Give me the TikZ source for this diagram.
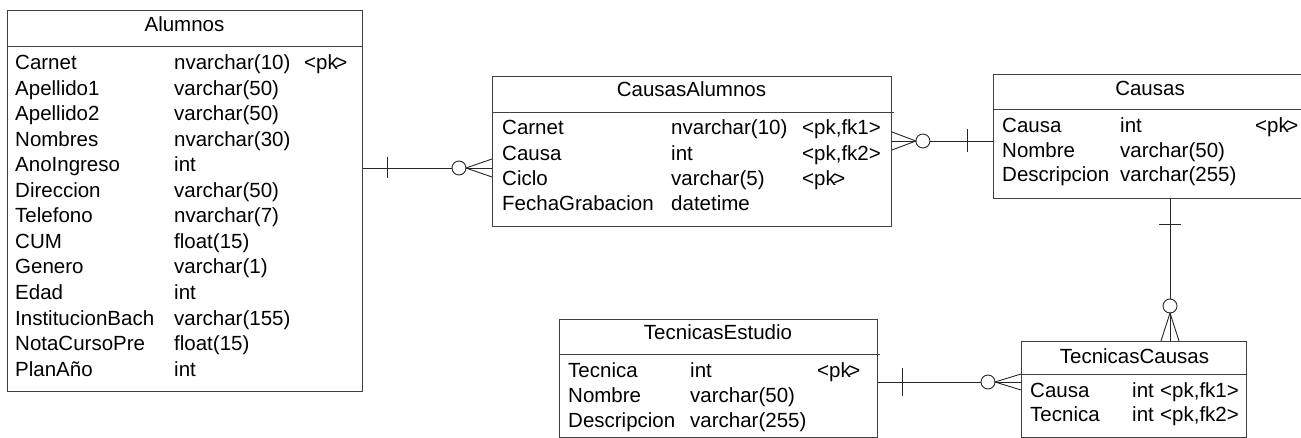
\documentclass[tikz,border=0pt]{standalone}
\usepackage{fontspec}
\setmainfont{Liberation Sans}
\usetikzlibrary{calc}
\newcommand\pkmark{<pk\kern-2.5pt>}
\tikzset{
  tbl/.style={draw=black!75, line width=0.9pt, rectangle, inner sep=0pt, anchor=north west},
  sepline/.style={draw=black!75, line width=0.9pt},
  txt/.style={inner sep=0pt, anchor=base west, font=\fontsize{20.5}{24}\selectfont, text=black},
  ttl/.style={inner sep=0pt, anchor=base, font=\fontsize{20.5}{24}\selectfont, text=black},
  conn/.style={draw=black!85, line width=0.9pt},
}
\begin{document}
\begin{tikzpicture}[x=1pt,y=-1pt]
\useasboundingbox (0,0) rectangle (1301,438);
\clip (0,0) rectangle (1301,438);

% ---------------- Alumnos ----------------
\node[tbl, minimum width=355pt, minimum height=381pt] (alumnos) at (7,10) {};
\draw[sepline] (7,46) -- (362,46);
\node[ttl] (alumnos-title) at (184.5,32) {Alumnos};
\foreach \a/\b [count=\i from 0] in {Carnet/nvarchar(10), Apellido1/varchar(50), Apellido2/varchar(50), Nombres/nvarchar(30), AnoIngreso/int, Direccion/varchar(50), Telefono/nvarchar(7), CUM/float(15), Genero/varchar(1), Edad/int, InstitucionBach/varchar(155), NotaCursoPre/float(15), PlanAño/int} {
  \node[txt] (alu-n\i) at (15,70+25.5*\i) {\a};
  \node[txt] (alu-t\i) at (174,70+25.5*\i) {\b};
}
\node[txt] (alu-k0) at (304,70) {\pkmark};

% ---------------- CausasAlumnos ----------------
\node[tbl, minimum width=399pt, minimum height=150pt] (causasalumnos) at (492,76) {};
\draw[sepline] (492,112) -- (894,112);
\node[ttl] (ca-title) at (691.5,97) {CausasAlumnos};
\foreach \a/\b/\c [count=\i from 0] in {Carnet/nvarchar(10)/{<pk,fk1>}, Causa/int/{<pk,fk2>}, Ciclo/varchar(5)/{\pkmark}} {
  \node[txt] (ca-n\i) at (502,135+25.2*\i) {\a};
  \node[txt] (ca-t\i) at (671,135+25.2*\i) {\b};
  \node[txt] (ca-k\i) at (802,135+25.2*\i) {\c};
}
\node[txt] (ca-n3) at (502,210.6) {FechaGrabacion};
\node[txt] (ca-t3) at (671,210.6) {datetime};

% ---------------- Causas ----------------
\node[tbl, minimum width=314pt, minimum height=124pt] (causas) at (993,74) {};
\draw[sepline] (993,109) -- (1307,109);
\node[ttl] (causas-title) at (1150,96) {Causas};
\foreach \a/\b [count=\i from 0] in {Causa/int, Nombre/varchar(50), Descripcion/varchar(255)} {
  \node[txt] (cau-n\i) at (1002,132.5+24.6*\i) {\a};
  \node[txt] (cau-t\i) at (1120,132.5+24.6*\i) {\b};
}
\node[txt] (cau-k0) at (1255,132.5) {\pkmark};

% ---------------- TecnicasEstudio ----------------
\node[tbl, minimum width=318pt, minimum height=118pt] (tecest) at (559,319) {};
\draw[sepline] (559,354) -- (880,354);
\node[ttl] (te-title) at (718,339) {TecnicasEstudio};
\foreach \a/\b [count=\i from 0] in {Tecnica/int, Nombre/varchar(50), Descripcion/varchar(255)} {
  \node[txt] (te-n\i) at (568,377+25*\i) {\a};
  \node[txt] (te-t\i) at (690,377+25*\i) {\b};
}
\node[txt] (te-k0) at (817,377) {\pkmark};

% ---------------- TecnicasCausas ----------------
\node[tbl, minimum width=225pt, minimum height=96pt] (teccau) at (1021,341) {};
\draw[sepline] (1021,374) -- (1247,374);
\node[ttl] (tc-title) at (1134.5,363) {TecnicasCausas};
\foreach \a/\c [count=\i from 0] in {Causa/{<pk,fk1>}, Tecnica/{<pk,fk2>}} {
  \node[txt] (tc-n\i) at (1030,397.7+24*\i) {\a};
  \node[txt] (tc-t\i) at (1132,397.7+24*\i) {int};
  \node[txt] (tc-k\i) at (1160,397.7+24*\i) {\c};
}

% ---------------- Connectors ----------------
% Alumnos -> CausasAlumnos
\coordinate (p1) at (alumnos.east |- 0,168);
\coordinate (q1) at (causasalumnos.west |- 0,168);
\draw[conn] (p1) -- ([xshift=-40pt]q1);
\draw[conn] ([xshift=25pt]p1) ++(0,-10.5) -- ++(0,21);
\draw[conn] ([xshift=-33pt]q1) circle[radius=7pt];
\draw[conn] ([yshift=9pt]q1) -- ([xshift=-26pt]q1) -- ([yshift=-9pt]q1);
\draw[conn] ([xshift=-26pt]q1) -- (q1);

% Causas -> CausasAlumnos
\coordinate (p2) at (causas.west |- 0,141);
\coordinate (q2) at (causasalumnos.east |- 0,141);
\draw[conn] (p2) -- ([xshift=38pt]q2);
\draw[conn] ([xshift=-26pt]p2) ++(0,-11.5) -- ++(0,23);
\draw[conn] ([xshift=31pt]q2) circle[radius=7pt];
\draw[conn] ([yshift=9pt]q2) -- ([xshift=24pt]q2) -- ([yshift=-9pt]q2);
\draw[conn] ([xshift=24pt]q2) -- (q2);

% Causas -> TecnicasCausas
\coordinate (p3) at (causas.south -| 1170,0);
\coordinate (q3) at (teccau.north -| 1170,0);
\draw[conn] (p3) -- ([yshift=42pt]q3);
\draw[conn] ([yshift=-26pt]p3) ++(-11,0) -- ++(22,0);
\draw[conn] ([yshift=35pt]q3) circle[radius=7pt];
\draw[conn] ([xshift=-9pt]q3) -- ([yshift=28pt]q3) -- ([xshift=9pt]q3);
\draw[conn] ([yshift=28pt]q3) -- (q3);

% TecnicasEstudio -> TecnicasCausas
\coordinate (p4) at (tecest.east |- 0,382);
\coordinate (q4) at (teccau.west |- 0,382);
\draw[conn] (p4) -- ([xshift=-40pt]q4);
\draw[conn] ([xshift=25pt]p4) ++(0,-14) -- ++(0,28);
\draw[conn] ([xshift=-33pt]q4) circle[radius=7pt];
\draw[conn] ([yshift=8pt]q4) -- ([xshift=-26pt]q4) -- ([yshift=-8pt]q4);
\draw[conn] ([xshift=-26pt]q4) -- (q4);
\end{tikzpicture}
\end{document}
